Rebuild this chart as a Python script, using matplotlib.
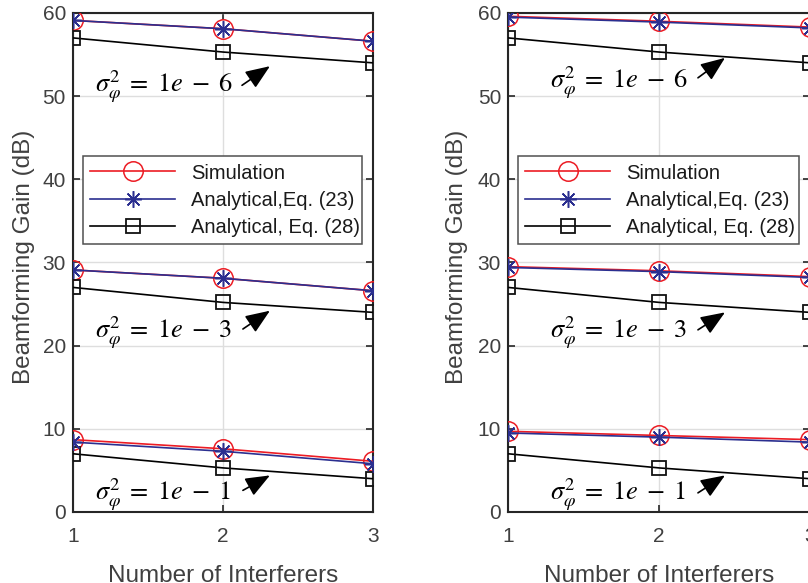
import matplotlib.pyplot as plt

plt.rcParams['font.family'] = ['Liberation Sans', 'DejaVu Sans']
plt.rcParams['mathtext.fontset'] = 'stix'

# number of interferers
n_interf = [1, 2, 3]

# left panel
sim_left_6 = [59.1, 58.1, 56.6]
sim_left_3 = [29.1, 28.1, 26.6]
sim_left_1 = [8.7, 7.6, 6.1]
eq23_left_6 = [59.1, 58.1, 56.6]
eq23_left_3 = [29.1, 28.1, 26.6]
eq23_left_1 = [8.4, 7.3, 5.8]

# right panel
sim_right_6 = [59.6, 59.0, 58.3]
sim_right_3 = [29.5, 29.0, 28.3]
sim_right_1 = [9.7, 9.2, 8.7]
eq23_right_6 = [59.5, 58.9, 58.2]
eq23_right_3 = [29.4, 28.9, 28.2]
eq23_right_1 = [9.5, 9.0, 8.4]

# Eq. (28), same for both panels
eq28_6 = [57.0, 55.3, 54.0]
eq28_3 = [27.0, 25.2, 24.0]
eq28_1 = [7.0, 5.3, 4.0]

sigma_labels = [r'$\sigma_{\varphi}^{2}\;=\;1e\;-\;6$',
                r'$\sigma_{\varphi}^{2}\;=\;1e\;-\;3$',
                r'$\sigma_{\varphi}^{2}\;=\;1e\;-\;1$']

txt_col = '#404040'
red = '#ec1c24'
blue = '#2b2f90'

fig = plt.figure(figsize=(8.08, 5.83), dpi=100)
ax1 = fig.add_axes([0.0903, 0.1218, 0.3713, 0.856])
ax2 = fig.add_axes([0.6287, 0.1218, 0.3738, 0.856])


def draw_panel(ax, sims, eq23s, eq28s, text_pos, arrows, ylab_x):
    for i in range(3):
        ax.plot(n_interf, sims[i], color=red, lw=1.2, marker='o', ms=14, mfc='none',
                mec=red, mew=1.1, label='Simulation' if i == 0 else None, zorder=3)
        ax.plot(n_interf, eq23s[i], color=blue, lw=1.2, marker=(8, 2, 0), ms=12,
                mec=blue, mew=1.1, label='Analytical,Eq. (23)' if i == 0 else None, zorder=4)
        ax.plot(n_interf, eq28s[i], color='black', lw=1.2, marker='s', ms=10, mfc='none',
                mec='#111111', mew=1.3, label='Analytical, Eq. (28)' if i == 0 else None, zorder=3)
        ax.text(text_pos[i][0], text_pos[i][1], sigma_labels[i], fontsize=19,
                ha='left', va='baseline', color='black', zorder=5)
        ax.annotate('', xy=arrows[i][1], xytext=arrows[i][0],
                    arrowprops=dict(arrowstyle='-|>,head_length=0.75,head_width=0.3',
                                    color='black', lw=1.2, mutation_scale=20, shrinkA=0, shrinkB=0))
    ax.set_xlim(1, 3)
    ax.set_ylim(0, 60)
    ax.set_xticks([1, 2, 3])
    ax.set_yticks(range(0, 61, 10))
    ax.grid(True, color='#dedede', lw=1)
    ax.set_axisbelow(True)
    ax.tick_params(direction='in', length=5, width=1.2, colors='#262626',
                   labelcolor=txt_col, labelsize=15, top=True, right=True)
    ax.tick_params(axis='x', pad=11)
    ax.tick_params(axis='y', pad=5)
    for s in ax.spines.values():
        s.set_linewidth(1.5)
        s.set_color('#262626')
    ax.set_xlabel('Number of Interferers', fontsize=17.5, color=txt_col)
    ax.set_ylabel('Beamforming Gain (dB)', fontsize=17.5, color=txt_col)
    ax.yaxis.set_label_coords(ylab_x, 0.512)
    ax.xaxis.set_label_coords(0.5, -0.106)
    leg = ax.legend(loc='center', bbox_to_anchor=(0.034, 0.529, 0.93, 0.192), mode='expand',
                    fontsize=14.5, handlelength=4.2, labelspacing=0.4, borderaxespad=0,
                    fancybox=False, framealpha=1, edgecolor='#505050', borderpad=0.35)
    leg.get_frame().set_linewidth(1.1)
    for t in leg.get_texts():
        t.set_color('#1a1a1a')


draw_panel(ax1,
           [sim_left_6, sim_left_3, sim_left_1],
           [eq23_left_6, eq23_left_3, eq23_left_1],
           [eq28_6, eq28_3, eq28_1],
           [(1.147, 50.5), (1.147, 21.0), (1.147, 1.44)],
           [((2.127, 51.3), (2.313, 53.6)), ((2.133, 22.0), (2.313, 24.2)), ((2.133, 2.6), (2.313, 4.4))],
           -0.127)

draw_panel(ax2,
           [sim_right_6, sim_right_3, sim_right_1],
           [eq23_right_6, eq23_right_3, eq23_right_1],
           [eq28_6, eq28_3, eq28_1],
           [(1.278, 51.0), (1.278, 21.0), (1.278, 1.44)],
           [((2.258, 52.2), (2.437, 54.6)), ((2.258, 21.9), (2.437, 24.0)), ((2.258, 2.3), (2.437, 4.4))],
           -0.132)

fig.savefig('out.png', dpi=100)
